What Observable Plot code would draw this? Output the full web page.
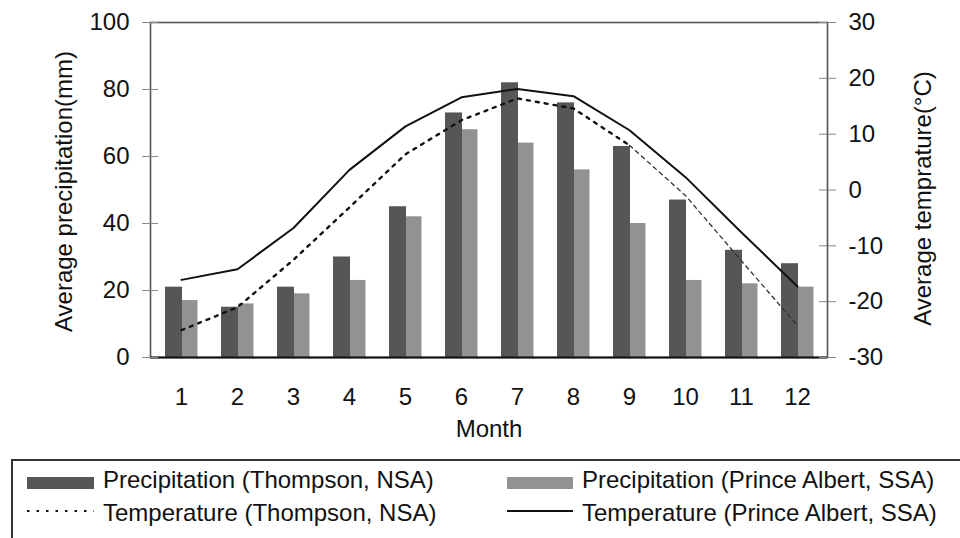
<!DOCTYPE html>
<html><head><meta charset="utf-8">
<script src="https://cdn.jsdelivr.net/npm/d3@7"></script>
<script src="https://cdn.jsdelivr.net/npm/@observablehq/plot@0.6"></script>
<style>
body{margin:0;background:#fff;font-family:"Liberation Sans",Arial,sans-serif;}
#wrap{position:relative;width:960px;height:538px;overflow:hidden;background:#fff;}
#legend{position:absolute;left:11px;top:459px;width:980px;height:120px;border:2px solid #333;box-sizing:border-box;}
.item{position:absolute;font-size:24px;line-height:24px;color:#111;white-space:nowrap;}
.glyph{position:absolute;}
</style></head>
<body><div id="wrap"><div id="chart"></div><div id="legend"></div></div>
<script>
const months = [1, 2, 3, 4, 5, 6, 7, 8, 9, 10, 11, 12];
const precipThompson = [21, 15, 21, 30, 45, 73, 82, 76, 63, 47, 32, 28];
const precipPrinceAlbert = [17, 16, 19, 23, 42, 68, 64, 56, 40, 23, 22, 21];
const tempThompson = [-25.1, -21, -12.5, -3.1, 6.4, 12.5, 16.4, 14.6, 8, -1, -12.7, -24.3];
const tempPrinceAlbert = [-16.1, -14.2, -6.8, 3.6, 11.4, 16.6, 18.1, 16.8, 10.7, 2.3, -7.6, -17.3];
const precipTicks = [0, 20, 40, 60, 80, 100];
const tempTicks = [-30, -20, -10, 0, 10, 20, 30];
const legendLabels = [
  "Precipitation (Thompson, NSA)",
  "Precipitation (Prince Albert, SSA)",
  "Temperature (Thompson, NSA)",
  "Temperature (Prince Albert, SSA)"
];

// temperature (-30..30) mapped onto the precipitation scale (0..100) for the secondary axis
const toP = t => (t + 30) * 100 / 60;
const tempPos = tempTicks.map(toP);

const rows = months.map((m, i) => ({
  month: m,
  pT: precipThompson[i],
  pP: precipPrinceAlbert[i],
  tT: tempThompson[i],
  tP: tempPrinceAlbert[i]
}));

const font = "'Liberation Sans', Arial, sans-serif";
const chart = Plot.plot({
  width: 960,
  height: 450,
  marginTop: 22,
  marginBottom: 93,
  marginLeft: 150,
  marginRight: 133,
  style: {fontFamily: font, fontSize: "24px", color: "#111", background: "#fff", overflow: "visible"},
  x: {type: "band", domain: months, padding: 0},
  y: {domain: [0, 100]},
  marks: [
    Plot.barY(rows, {x: "month", y: "pT", fill: "#565656", insetLeft: 12, insetRight: 27}),
    Plot.barY(rows, {x: "month", y: "pP", fill: "#929292", insetLeft: 29, insetRight: 11.5}),
    Plot.line(rows, {x: "month", y: d => toP(d.tP), stroke: "#111", strokeWidth: 2}),
    Plot.line(rows, {filter: (d, i) => i <= 8, x: "month", y: d => toP(d.tT), stroke: "#111", strokeWidth: 2.4, strokeDasharray: "3,6"}),
    Plot.line(rows, {filter: (d, i) => i >= 8, x: "month", y: d => toP(d.tT), stroke: "#333", strokeWidth: 1.3, strokeDasharray: "4,4"}),
    Plot.frame({stroke: "#555", strokeWidth: 1.6}),
    Plot.ruleY([0], {stroke: "#111", strokeWidth: 2}),
    Plot.axisX({tickSize: 0, tickPadding: 30, label: null}),
    Plot.axisY({anchor: "left", ticks: precipTicks, tickSize: 8, tickPadding: 13, label: null, stroke: "#888"}),
    Plot.tickY(precipTicks, {y: d => d, stroke: "#888", insetRight: 669}),
    Plot.axisY({anchor: "right", ticks: tempPos, tickSize: 8, tickPadding: 13, label: null, stroke: "#888",
      tickFormat: d => { const k = tempPos.indexOf(d); return k >= 0 ? String(tempTicks[k]) : ""; }}),
    Plot.tickY(tempPos, {y: d => d, stroke: "#888", insetLeft: 669}),
    Plot.text(["Month"], {frameAnchor: "bottom", dy: 79, text: d => d, fontSize: 24, fill: "#111", textAnchor: "middle"}),
    Plot.text(["Average precipitation(mm)"], {frameAnchor: "left", dx: -86, dy: 1.5, rotate: -90, textAnchor: "middle", text: d => d, fontSize: 24, fill: "#111"}),
    Plot.text(["Average temprature(\u00B0C)"], {frameAnchor: "right", dx: 96, dy: 8.5, rotate: -90, textAnchor: "middle", text: d => d, fontSize: 24, fill: "#111"})
  ]
});
document.getElementById("chart").appendChild(chart);

// Legend (HTML below the SVG)
const legend = document.getElementById("legend");
function addText(txt, left, top) {
  const d = document.createElement("div");
  d.className = "item";
  d.style.left = left + "px";
  d.style.top = top + "px";
  d.textContent = txt;
  legend.appendChild(d);
}
function addGlyph(left, top, w, h, inner) {
  const ns = "http://www.w3.org/2000/svg";
  const s = document.createElementNS(ns, "svg");
  s.setAttribute("width", w);
  s.setAttribute("height", h);
  s.setAttribute("class", "glyph");
  s.style.left = left + "px";
  s.style.top = top + "px";
  s.innerHTML = inner;
  legend.appendChild(s);
}
addGlyph(14, 16, 67, 12, '<rect width="67" height="12" fill="#565656"/>');
addText(legendLabels[0], 90, 6.7);
addGlyph(494, 16, 66, 12, '<rect width="66" height="12" fill="#929292"/>');
addText(legendLabels[1], 569, 6.7);
addGlyph(14, 45, 67, 10, '<line x1="0" x2="67" y1="5" y2="5" stroke="#111" stroke-width="2" stroke-dasharray="2.5,7"/>');
addText(legendLabels[2], 90, 39.7);
addGlyph(494, 45, 66, 10, '<line x1="0" x2="66" y1="5" y2="5" stroke="#111" stroke-width="2"/>');
addText(legendLabels[3], 569, 39.7);
</script>
</body></html>
